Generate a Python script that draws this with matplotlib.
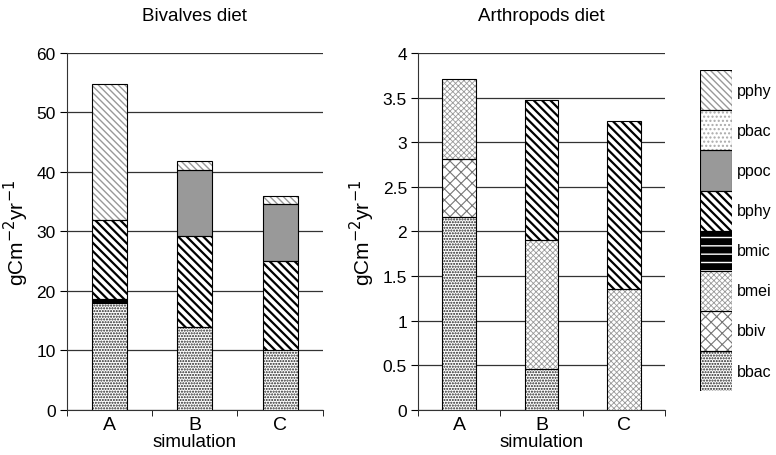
import matplotlib.pyplot as plt
import numpy as np

plt.rcParams['font.family'] = ['Liberation Sans', 'DejaVu Sans']

sims = ['A', 'B', 'C']
components = ['bbac', 'bbiv', 'bmei', 'bmic', 'bphy', 'ppoc', 'pbac', 'pphy']

# bivalves diet, gC m-2 yr-1 (bottom to top)
biv_bbac = [18.0, 14.0, 10.0]
biv_bbiv = [0.0, 0.0, 0.0]
biv_bmei = [0.0, 0.0, 0.0]
biv_bmic = [0.7, 0.0, 0.0]
biv_bphy = [13.3, 15.3, 15.1]
biv_ppoc = [0.0, 11.1, 9.5]
biv_pbac = [0.0, 0.0, 0.0]
biv_pphy = [22.7, 1.5, 1.4]

# arthropods diet
art_bbac = [2.16, 0.46, 0.0]
art_bbiv = [0.65, 0.0, 0.0]
art_bmei = [0.90, 1.44, 1.35]
art_bmic = [0.0, 0.0, 0.0]
art_bphy = [0.0, 1.57, 1.89]
art_ppoc = [0.0, 0.0, 0.0]
art_pbac = [0.0, 0.0, 0.0]
art_pphy = [0.0, 0.0, 0.0]

# fill, hatch, hatch colour, hatch linewidth
styles = {
    'bbac': ('white', '......', '#222222', 1.0),
    'bbiv': ('white', 'xxx', '#777777', 0.8),
    'bmei': ('white', 'xxxxxx', '#999999', 0.6),
    'bmic': ('black', '--', 'white', 1.0),
    'bphy': ('white', '\\\\\\\\', 'black', 1.6),
    'ppoc': ('#999999', '', '#999999', 1.0),
    'pbac': ('white', '....', '#aaaaaa', 1.0),
    'pphy': ('white', '\\\\\\\\\\', '#999999', 1.0),
}


def hatched_bar(ax, x, h, bottom, width, comp):
    fc, hatch, hc, hlw = styles[comp]
    bars = ax.bar(x, h, width, bottom=bottom, color=fc, edgecolor=hc,
                  hatch=hatch, linewidth=0, zorder=3)
    for b in bars:
        if hasattr(b, 'set_hatch_linewidth'):
            b.set_hatch_linewidth(hlw)
    ax.bar(x, h, width, bottom=bottom, fill=False, edgecolor='black',
           linewidth=0.8, zorder=4)


def panel(ax, data, ymax, yticks, ticklabels, title):
    x = np.arange(len(sims))
    bottom = np.zeros(len(sims))
    for comp in components:
        vals = np.array(data[comp])
        m = vals > 0
        if m.any():
            hatched_bar(ax, x[m], vals[m], bottom[m], 0.41, comp)
        bottom += vals
    ax.set_xlim(-0.5, 2.5)
    ax.set_ylim(0, ymax)
    ax.set_yticks(yticks)
    ax.set_yticklabels(ticklabels)
    ax.yaxis.grid(True, color='#333333', linewidth=0.9, zorder=0)
    ax.set_axisbelow(True)
    ax.set_xticks(x)
    ax.set_xticklabels(sims, fontsize=14)
    ax.set_xticks([-0.5, 0.5, 1.5, 2.5], minor=True)
    ax.tick_params(axis='x', which='major', length=0, pad=4)
    ax.tick_params(axis='x', which='minor', length=4, direction='out')
    ax.tick_params(axis='y', length=5, labelsize=12.5, pad=3)
    for s in ['top', 'right']:
        ax.spines[s].set_visible(False)
    ax.spines['left'].set_color('#333333')
    ax.spines['bottom'].set_color('#333333')
    ax.set_xlabel('simulation', fontsize=13.5, labelpad=0)
    ax.set_ylabel('gCm$^{-2}$yr$^{-1}$', fontsize=15, labelpad=4)
    ax.set_title(title, fontsize=13.5, pad=24)


fig = plt.figure(figsize=(7.76, 4.56), dpi=100)
ax1 = fig.add_axes([0.086, 0.0987, 0.330, 0.783])
ax2 = fig.add_axes([0.5387, 0.0987, 0.318, 0.783])
axl = fig.add_axes([0.902, 0.140, 0.041, 0.704])

biv = dict(bbac=biv_bbac, bbiv=biv_bbiv, bmei=biv_bmei, bmic=biv_bmic,
           bphy=biv_bphy, ppoc=biv_ppoc, pbac=biv_pbac, pphy=biv_pphy)
art = dict(bbac=art_bbac, bbiv=art_bbiv, bmei=art_bmei, bmic=art_bmic,
           bphy=art_bphy, ppoc=art_ppoc, pbac=art_pbac, pphy=art_pphy)

panel(ax1, biv, 60, np.arange(0, 61, 10), [str(v) for v in range(0, 61, 10)],
      'Bivalves diet')
yt = np.arange(0, 4.01, 0.5)
panel(ax2, art, 4, yt, ['0', '0.5', '1', '1.5', '2', '2.5', '3', '3.5', '4'],
      'Arthropods diet')

# legend as a stack of swatches
n = len(components)
for i, comp in enumerate(components):
    hatched_bar(axl, 0, 1, i, 1.0, comp)
    axl.text(1.17, (i + 0.5) / n, comp, va='center', ha='left', fontsize=11.5,
             transform=axl.transAxes, clip_on=False)
axl.set_xlim(-0.5, 0.5)
axl.set_ylim(0, n)
axl.axis('off')

fig.savefig('out.png', dpi=100)
